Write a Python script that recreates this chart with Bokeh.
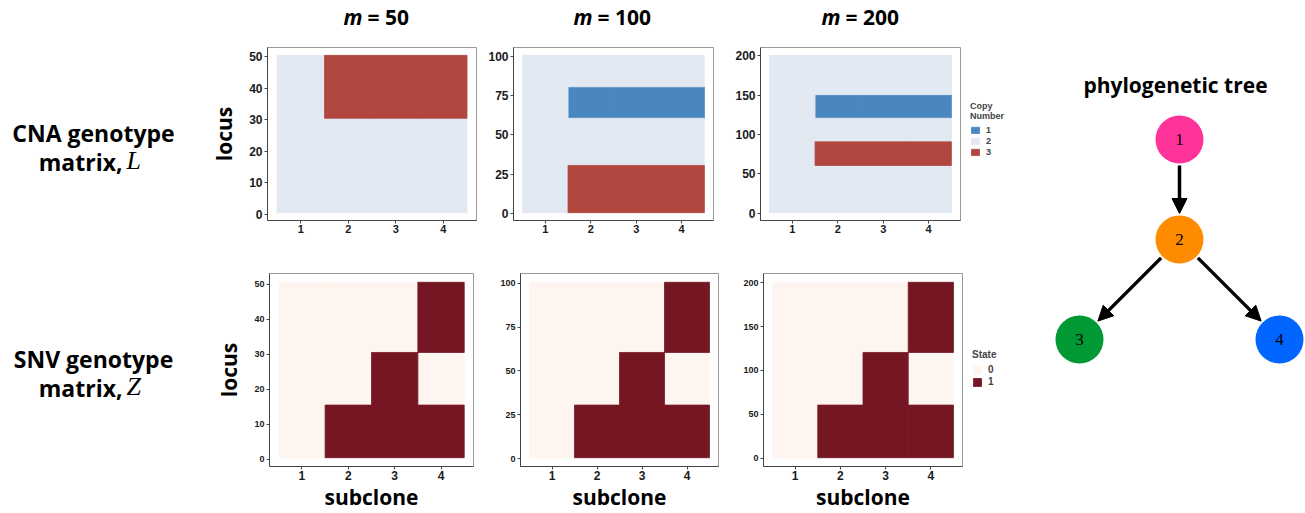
import numpy as np
from bokeh.plotting import figure
from bokeh.models import (Range1d, FixedTicker, Legend, LegendItem, Label, Arrow,
                          NormalHead, ColumnDataSource)
from bokeh.layouts import row, column
from bokeh.embed import file_html
from bokeh.resources import INLINE
from bokeh.core.properties import value

# ---------------- data ----------------
subclones = [1, 2, 3, 4]
loci_counts = [50, 100, 200]
y_ticks_50 = [0, 10, 20, 30, 40, 50]
y_ticks_100 = [0, 25, 50, 75, 100]
y_ticks_200 = [0, 50, 100, 150, 200]

cna_states = [1, 2, 3]
cna_colors = ["#4A86BF", "#E2E9F3", "#B1473F"]
cna_baseline = 2
# blocks: (first subclone, last subclone, first locus, last locus, copy number)
cna_m50_blocks = [(2, 4, 31, 50, 3)]
cna_m100_blocks = [(2, 4, 61, 80, 1), (2, 4, 1, 30, 3)]
cna_m200_blocks = [(2, 4, 121, 150, 1), (2, 4, 61, 90, 3)]

snv_states = [0, 1]
snv_colors = ["#FFF5F0", "#751722"]
snv_baseline = 0
# blocks: (first subclone, last subclone, first locus, last locus, state)
snv_m50_blocks = [(2, 4, 1, 15, 1), (3, 3, 16, 30, 1), (4, 4, 31, 50, 1)]
snv_m100_blocks = [(2, 4, 1, 30, 1), (3, 3, 31, 60, 1), (4, 4, 61, 100, 1)]
snv_m200_blocks = [(2, 4, 1, 60, 1), (3, 3, 61, 120, 1), (4, 4, 121, 200, 1)]

tree_nodes = ["1", "2", "3", "4"]
tree_x = [0, 0, -1, 1]
tree_y = [2, 1, 0, 0]
tree_colors = ["#FF3399", "#FF8C00", "#009933", "#0066FF"]
tree_edges = [("1", "2"), ("2", "3"), ("2", "4")]

BOLD_FONT = "Open Sans"
TICK_FONT = "Liberation Sans"


def build_matrix(m, baseline, blocks):
    M = np.full((m, len(subclones)), baseline)
    for s0, s1, l0, l1, v in blocks:
        M[l0 - 1:l1, s0 - 1:s1] = v
    return M


def segments(M, state):
    d = dict(left=[], right=[], bottom=[], top=[])
    n = M.shape[0]
    for j, s in enumerate(subclones):
        col = M[:, j]
        i = 0
        while i < n:
            k = i
            while k + 1 < n and col[k + 1] == col[i]:
                k += 1
            if col[i] == state:
                d["left"].append(s - 0.5)
                d["right"].append(s + 0.5)
                d["bottom"].append(i + 1 - 0.5)
                d["top"].append(k + 1 + 0.5)
            i = k + 1
    return d


def blank(width, height, x0, x1, y0, y1, bt=0, bb=0):
    f = figure(width=width, height=height, output_backend="svg", toolbar_location=None,
               x_range=Range1d(x0, x1), y_range=Range1d(y0, y1),
               x_axis_location=None, y_axis_location=None,
               min_border=0, min_border_left=0, min_border_right=0,
               min_border_top=bt, min_border_bottom=bb)
    f.grid.visible = False
    f.outline_line_color = None
    f.background_fill_color = "white"
    f.border_fill_color = "white"
    return f


def panel(m, M, states, colors, yticks, width, height, bl, br, bt, bb,
          ytick_size, xtick_size, ylabel=False, xlabel=False):
    xs0, xs1 = min(subclones) - 0.5, max(subclones) + 0.5
    xpad = 0.05 * (xs1 - xs0)
    ys0, ys1 = 0.5, m + 0.5
    ypad = 0.05 * (ys1 - ys0)
    p = figure(width=width, height=height, output_backend="svg", toolbar_location=None,
               x_range=Range1d(xs0 - xpad, xs1 + xpad),
               y_range=Range1d(ys0 - ypad, ys1 + ypad),
               min_border_left=bl, min_border_right=br, min_border_top=bt,
               min_border_bottom=bb)
    p.grid.visible = False
    p.outline_line_color = "#9a9a9a"
    p.outline_line_width = 1
    p.background_fill_color = "white"
    p.border_fill_color = "white"
    for st, c in zip(states, colors):
        src = ColumnDataSource(segments(M, st))
        p.quad(left="left", right="right", bottom="bottom", top="top", source=src,
               fill_color=c, line_color=c, line_width=0.8)
    p.xaxis.ticker = FixedTicker(ticks=subclones)
    p.yaxis.ticker = FixedTicker(ticks=yticks)
    for ax, size in ((p.xaxis, xtick_size), (p.yaxis, ytick_size)):
        ax.major_label_text_font = TICK_FONT
        ax.major_label_text_font_style = "bold"
        ax.major_label_text_font_size = size
        ax.major_label_text_color = "#1a1a1a"
        ax.major_tick_out = 3
        ax.major_tick_in = 0
        ax.minor_tick_line_color = None
        ax.major_tick_line_color = "#444444"
        ax.axis_line_color = "#444444"
        ax.major_label_standoff = 1
    p.yaxis.major_label_standoff = 2
    if ylabel:
        p.yaxis.axis_label = "locus"
        p.yaxis.axis_label_text_font = BOLD_FONT
        p.yaxis.axis_label_text_font_style = "bold"
        p.yaxis.axis_label_text_font_size = "21px"
        p.yaxis.axis_label_text_color = "black"
        p.yaxis.axis_label_standoff = 8
    if xlabel:
        p.xaxis.axis_label = "subclone"
        p.xaxis.axis_label_text_font = BOLD_FONT
        p.xaxis.axis_label_text_font_style = "bold"
        p.xaxis.axis_label_text_font_size = "21px"
        p.xaxis.axis_label_text_color = "black"
        p.xaxis.axis_label_standoff = 0
    return p


def legend_fig(width, height, bt, bb, states, colors, title, loc, key_h, font):
    f = blank(width, height, 0, 1, 0, 1, bt=bt, bb=bb)
    items = []
    for st, c in zip(states, colors):
        # proxy renderer (one undrawable NaN row) so the legend can draw its key
        r = f.quad(left=[np.nan], right=[np.nan], bottom=[np.nan], top=[np.nan],
                   fill_color=c, line_color=c, line_width=0.8)
        items.append(LegendItem(label=str(st), renderers=[r]))
    lg = Legend(items=items, title=title, location=loc, orientation="vertical",
                glyph_width=10, glyph_height=key_h, label_height=key_h, spacing=1,
                padding=0, margin=0, border_line_color=None, background_fill_alpha=0,
                label_text_font=TICK_FONT, label_text_font_style="bold",
                label_text_font_size=font, label_standoff=6,
                title_text_font=TICK_FONT, title_text_font_style="bold",
                title_text_font_size=font, title_standoff=4)
    f.add_layout(lg)
    return f


# ---------------- heatmap panels ----------------
cna_m50 = build_matrix(50, cna_baseline, cna_m50_blocks)
cna_m100 = build_matrix(100, cna_baseline, cna_m100_blocks)
cna_m200 = build_matrix(200, cna_baseline, cna_m200_blocks)
snv_m50 = build_matrix(50, snv_baseline, snv_m50_blocks)
snv_m100 = build_matrix(100, snv_baseline, snv_m100_blocks)
snv_m200 = build_matrix(200, snv_baseline, snv_m200_blocks)

TOP_H, BOT_H = 210, 263
t1 = panel(50, cna_m50, cna_states, cna_colors, y_ticks_50, 285, TOP_H, 67, 9, 7, 30,
           "12px", "11px", ylabel=True)
t2 = panel(100, cna_m100, cna_states, cna_colors, y_ticks_100, 247, TOP_H, 25, 19, 7, 30,
           "12px", "11px")
t3 = panel(200, cna_m200, cna_states, cna_colors, y_ticks_200, 230, TOP_H, 26, 2, 7, 30,
           "12px", "11px")
tl = legend_fig(68, TOP_H, 7, 30, cna_states, cna_colors, "Copy\nNumber", (8, 63), 8, "9px")

b1 = panel(50, snv_m50, snv_states, snv_colors, y_ticks_50, 290, BOT_H, 69, 17, 23, 46,
           "9px", "12px", ylabel=True, xlabel=True)
b2 = panel(100, snv_m100, snv_states, snv_colors, y_ticks_100, 245, BOT_H, 30, 17, 23, 46,
           "9px", "12px", xlabel=True)
b3 = panel(200, snv_m200, snv_states, snv_colors, y_ticks_200, 229, BOT_H, 28, 2, 23, 46,
           "9px", "12px", xlabel=True)
bl_ = legend_fig(66, BOT_H, 23, 46, snv_states, snv_colors, "State", (8, 79), 10, "10px")

# ---------------- left labels ----------------
left = blank(200, 513, 0, 200, 513, 0)
for ytop, line1, sym in ((132, "CNA genotype", "L"), (358, "SNV genotype", "Z")):
    left.add_layout(Label(x=93, y=ytop, text=line1, text_align="center",
                          text_baseline="middle", text_font=BOLD_FONT,
                          text_font_style="bold", text_font_size="23px",
                          text_color="black"))
    left.add_layout(Label(x=122, y=ytop + 29, text="matrix,", text_align="right",
                          text_baseline="middle", text_font=BOLD_FONT,
                          text_font_style="bold", text_font_size="23px",
                          text_color="black"))
    left.add_layout(Label(x=126, y=ytop + 28, text=sym, text_align="left",
                          text_baseline="middle", text_font="Liberation Serif",
                          text_font_style="italic", text_font_size="26px",
                          text_color="black"))

# ---------------- column titles ----------------
strip = blank(830, 40, 200, 1030, 40, 0)
for m, xm in zip(loci_counts, [362, 592, 840]):
    strip.add_layout(Label(x=xm, y=16, text="m", text_align="right",
                           text_baseline="middle", text_font=BOLD_FONT,
                           text_font_style="bold italic", text_font_size="21px",
                           text_color="black"))
    strip.add_layout(Label(x=xm + 5, y=16, text="= %d" % m, text_align="left",
                           text_baseline="middle", text_font=BOLD_FONT,
                           text_font_style="bold", text_font_size="21px",
                           text_color="black"))

# ---------------- tree ----------------
tree = blank(275, 513, -1.49, 1.26, -1.74, 3.39)
R = 0.24
tree.circle(x=tree_x, y=tree_y, radius=R, fill_color=tree_colors, line_color=None)
tree.text(x=tree_x, y=tree_y, text=tree_nodes, text_align="center", text_baseline="middle",
          text_font=value("Liberation Serif"), text_font_size="17px", text_color="black")
pos = dict(zip(tree_nodes, zip(tree_x, tree_y)))
xs, ys, xe, ye = [], [], [], []
for a, b in tree_edges:
    (x0, y0), (x1, y1) = pos[a], pos[b]
    L = np.hypot(x1 - x0, y1 - y0)
    ux, uy = (x1 - x0) / L, (y1 - y0) / L
    xs.append(x0 + ux * (R + 0.02)); ys.append(y0 + uy * (R + 0.02))
    xe.append(x1 - ux * (R + 0.02)); ye.append(y1 - uy * (R + 0.02))
esrc = ColumnDataSource(dict(xs=xs, ys=ys, xe=xe, ye=ye))
tree.add_layout(Arrow(end=NormalHead(size=15, fill_color="black", line_color="black"),
                      x_start="xs", y_start="ys", x_end="xe", y_end="ye", source=esrc,
                      line_width=3.5, line_color="black"))
tree.add_layout(Label(x=-0.04, y=2.55, text="phylogenetic tree", text_align="center",
                      text_baseline="middle", text_font=BOLD_FONT, text_font_style="bold",
                      text_font_size="21px", text_color="black"))

layout = row(left, column(strip, row(t1, t2, t3, tl), row(b1, b2, b3, bl_)), tree)
open("out.html", "w").write(file_html(layout, INLINE))
